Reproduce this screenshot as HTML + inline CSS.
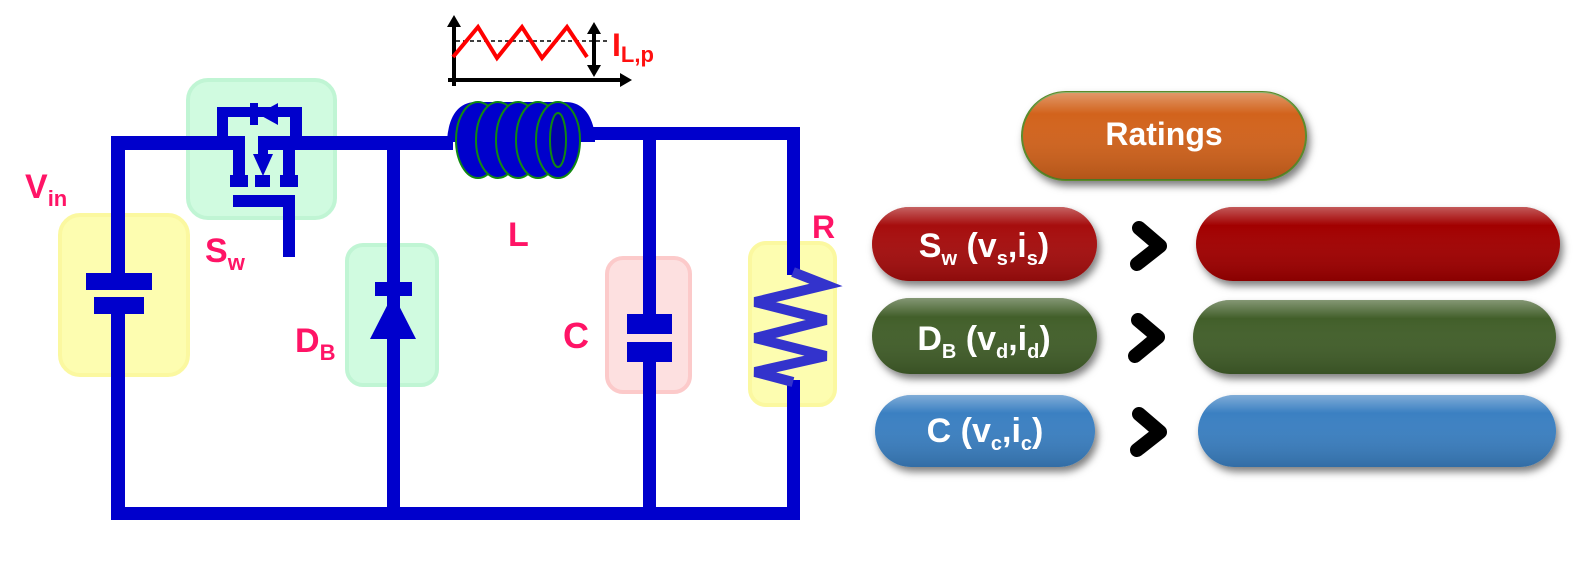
<!DOCTYPE html>
<html><head><meta charset="utf-8"><style>
body{margin:0;background:#fff;}
svg{display:block}
text{font-family:"Liberation Sans",sans-serif;font-weight:bold}
</style></head><body>
<svg width="1574" height="579" viewBox="0 0 1574 579" xmlns="http://www.w3.org/2000/svg">
<defs>
<filter id="sh" x="-10%" y="-20%" width="120%" height="150%"><feDropShadow dx="3" dy="5" stdDeviation="4" flood-color="#000" flood-opacity="0.5"/></filter>
<linearGradient id="gl" x1="0" y1="0" x2="0" y2="1"><stop offset="0" stop-color="#fff" stop-opacity="0.35"/><stop offset="0.25" stop-color="#fff" stop-opacity="0"/><stop offset="1" stop-color="#000" stop-opacity="0.15"/></linearGradient>
</defs>
<rect x="60" y="215" width="128" height="160" rx="20" fill="#fdfdb0" stroke="#fbf8a0" stroke-width="4"/>
<rect x="188" y="80" width="147" height="138" rx="20" fill="#d0fbe0" stroke="#c0f5d4" stroke-width="4"/>
<rect x="347" y="245" width="90" height="140" rx="16" fill="#d0fbe0" stroke="#c0f5d4" stroke-width="4"/>
<rect x="607" y="258" width="83" height="134" rx="16" fill="#fde0e0" stroke="#fccaca" stroke-width="4"/>
<rect x="750" y="243" width="85" height="162" rx="16" fill="#fdfdb0" stroke="#fbf8a0" stroke-width="4"/>
<g fill="#0000cc">
<rect x="111" y="136" width="134" height="14"/>
<rect x="111" y="136" width="14" height="138"/>
<rect x="111" y="310" width="14" height="210"/>
<rect x="86" y="273" width="66" height="17"/>
<rect x="94" y="297" width="50" height="17"/>
<rect x="111" y="507" width="689" height="13"/>
<rect x="217" y="107" width="85" height="10"/>
<rect x="217" y="107" width="11" height="38"/>
<rect x="290" y="107" width="12" height="32"/>
<rect x="250" y="103" width="8" height="22"/>
<polygon points="258,114 278,103 278,125"/>
<rect x="233" y="137" width="12" height="40"/>
<rect x="230" y="175" width="18" height="12"/>
<rect x="258" y="136" width="10" height="20"/>
<polygon points="253,154 273,154 263,176"/>
<rect x="255" y="175" width="15" height="12"/>
<rect x="283" y="137" width="12" height="40"/>
<rect x="280" y="175" width="18" height="12"/>
<rect x="233" y="195" width="62" height="12"/>
<rect x="283" y="195" width="12" height="62"/>
<rect x="258" y="136" width="195" height="14"/>
<rect x="387" y="143" width="13" height="372"/>
<rect x="375" y="282" width="37" height="14"/>
<polygon points="393,294 416,339 370,339"/>
<rect x="588" y="127" width="212" height="13"/>
<rect x="643" y="133" width="13" height="183"/>
<rect x="627" y="314" width="45" height="20"/>
<rect x="627" y="342" width="45" height="20"/>
<rect x="643" y="360" width="13" height="152"/>
<rect x="787" y="133" width="13" height="142"/>
<rect x="787" y="380" width="13" height="132"/>
</g>
<polyline points="793,272 826,285 755,302 826,320 755,338 826,356 755,372 793,382" fill="none" stroke="#3333cc" stroke-width="10"/>
<g stroke="#118811" stroke-width="2" fill="#0000cc">
<path d="M447,140 Q450,100 480,102 L565,102 Q590,102 595,135 L595,142 L447,142 Z" stroke="none"/>
<ellipse cx="478" cy="140" rx="22" ry="38"/>
<ellipse cx="498" cy="140" rx="22" ry="38"/>
<ellipse cx="518" cy="140" rx="22" ry="38"/>
<ellipse cx="538" cy="140" rx="22" ry="38"/>
<ellipse cx="558" cy="140" rx="22" ry="38"/>
<ellipse cx="558" cy="140" rx="8" ry="27" fill="#0000aa"/>
</g>
<g stroke="#000" stroke-width="4" fill="none">
<line x1="454" y1="24" x2="454" y2="86"/>
<line x1="448" y1="80" x2="622" y2="80"/>
<line x1="594" y1="32" x2="594" y2="68"/>
</g>
<polygon points="454,15 447,27 461,27"/>
<polygon points="632,80 620,73 620,87"/>
<polygon points="594,22 587,34 601,34"/>
<polygon points="594,77 587,65 601,65"/>
<line x1="456" y1="41" x2="608" y2="41" stroke="#000" stroke-width="1.5" stroke-dasharray="4,3"/>
<polyline points="453,57 478,27 497,58 522,27 542,58 567,27 587,57" fill="none" stroke="#ff0000" stroke-width="4"/>
<text x="612" y="56" fill="#ff1010" font-size="32">I<tspan font-size="22" dy="6">L,p</tspan></text>
<g fill="#ff1466">
<text x="25" y="198" font-size="34">V<tspan font-size="22" dy="8">in</tspan></text>
<text x="205" y="262" font-size="34">S<tspan font-size="22" dy="8">w</tspan></text>
<text x="508" y="246" font-size="34">L</text>
<text x="295" y="352" font-size="34">D<tspan font-size="22" dy="8">B</tspan></text>
<text x="563" y="348" font-size="36">C</text>
<text x="812" y="238" font-size="32">R</text>
</g>
<g filter="url(#sh)">
<rect x="1022" y="92" width="284" height="88" rx="44" fill="#d2641c" stroke="#5a8a2a" stroke-width="2"/>
<rect x="872" y="207" width="225" height="74" rx="37" fill="#a60808"/>
<rect x="1196" y="207" width="364" height="74" rx="37" fill="#a20505"/>
<rect x="872" y="298" width="225" height="76" rx="38" fill="#435e2b"/>
<rect x="1193" y="300" width="363" height="74" rx="37" fill="#435e2b"/>
<rect x="875" y="395" width="220" height="72" rx="36" fill="#3a80c2"/>
<rect x="1198" y="395" width="358" height="72" rx="36" fill="#3a80c2"/>
</g>
<g fill="url(#gl)">
<rect x="1022" y="92" width="284" height="88" rx="44"/>
<rect x="872" y="207" width="225" height="74" rx="37"/>
<rect x="1196" y="207" width="364" height="74" rx="37"/>
<rect x="872" y="298" width="225" height="76" rx="38"/>
<rect x="1193" y="300" width="363" height="74" rx="37"/>
<rect x="875" y="395" width="220" height="72" rx="36"/>
<rect x="1198" y="395" width="358" height="72" rx="36"/>
</g>
<g fill="#fff" text-anchor="middle">
<text x="1164" y="145" font-size="32">Ratings</text>
<text x="984" y="257" font-size="34">S<tspan font-size="20" dy="8">w</tspan><tspan dy="-8"> (v</tspan><tspan font-size="20" dy="8">s</tspan><tspan dy="-8">,i</tspan><tspan font-size="20" dy="8">s</tspan><tspan dy="-8">)</tspan></text>
<text x="984" y="350" font-size="34">D<tspan font-size="20" dy="8">B</tspan><tspan dy="-8"> (v</tspan><tspan font-size="20" dy="8">d</tspan><tspan dy="-8">,i</tspan><tspan font-size="20" dy="8">d</tspan><tspan dy="-8">)</tspan></text>
<text x="985" y="442" font-size="34">C (v<tspan font-size="20" dy="8">c</tspan><tspan dy="-8">,i</tspan><tspan font-size="20" dy="8">c</tspan><tspan dy="-8">)</tspan></text>
</g>
<g fill="none" stroke="#000" stroke-width="14" stroke-linecap="round" stroke-linejoin="round">
<polyline points="1139,228 1160,246 1137,264"/>
<polyline points="1138,320 1158,337 1135,356"/>
<polyline points="1139,414 1160,432 1137,450"/>
</g>
</svg>
</body></html>
